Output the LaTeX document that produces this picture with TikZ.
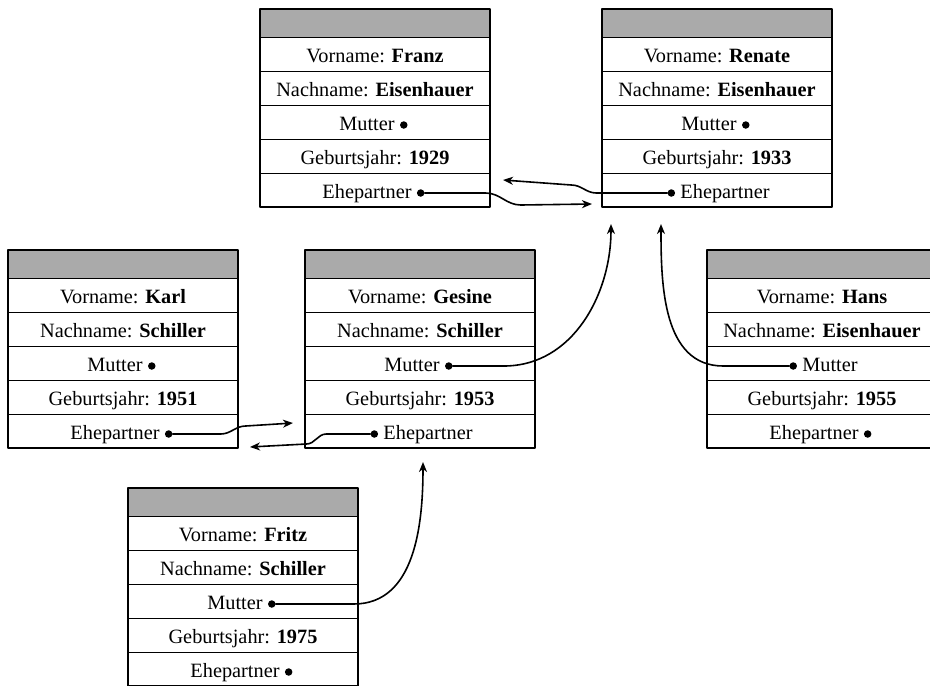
\documentclass[tikz,border=0pt]{standalone}
\usepackage{fontspec}
\setmainfont{Liberation Serif}
\usetikzlibrary{positioning,arrows.meta}
\definecolor{kopfgrau}{RGB}{170,170,170}

% Rahmen einer Person: #1 Name, #2 linke Kante, #3 obere Kante (Pixel von oben)
\newcommand{\personbox}[3]{%
  \fill[kopfgrau] (#2,-#3) rectangle ++(230,-28);
  \foreach \i in {1,...,5}{%
    \draw[line width=1pt] (#2,-#3-28-34*\i+34) -- ++(230,0);
    \coordinate (#1-r\i) at (#2+115,-#3-11-34*\i);
  }
  \draw[line width=2.3pt] (#2,-#3) rectangle ++(230,-198);
}

\begin{document}
\begin{tikzpicture}[x=1pt,y=1pt,line cap=round,line join=round,
    >={Stealth[length=10pt,width=8pt,inset=3pt]},
    txt/.style={font=\fontsize{20.3}{24}\selectfont, inner sep=0pt, anchor=base, yshift=-8pt},
    vor/.style={txt, xshift=-8pt},
    nach/.style={txt, xshift=8pt},
    punkt/.style={circle, fill, inner sep=0pt, minimum size=7.5pt, yshift=5pt},
    conn/.style={->, line width=1.6pt}]
    \path[use as bounding box, clip] (0,0) rectangle (930,-686);

    \personbox{franz}{260}{9}
    \personbox{renate}{602}{9}
    \personbox{karl}{8}{250}
    \personbox{gesine}{305}{250}
    \personbox{hans}{707}{250}
    \personbox{fritz}{128}{488}

    % Franz
    \node[txt] (franz-vn) at (franz-r1) {Vorname: \textbf{Franz}};
    \node[txt] (franz-nn) at (franz-r2) {Nachname: \textbf{Eisenhauer}};
    \node[vor] (franz-mu) at (franz-r3) {Mutter};
    \node[punkt, right=5pt of franz-mu.base east] (franz-mu-d) {};
    \node[txt] (franz-gj) at (franz-r4) {Geburtsjahr: \textbf{1929}};
    \node[vor] (franz-eh) at (franz-r5) {Ehepartner};
    \node[punkt, right=5pt of franz-eh.base east] (franz-eh-d) {};

    % Renate
    \node[txt] (renate-vn) at (renate-r1) {Vorname: \textbf{Renate}};
    \node[txt] (renate-nn) at (renate-r2) {Nachname: \textbf{Eisenhauer}};
    \node[vor] (renate-mu) at (renate-r3) {Mutter};
    \node[punkt, right=5pt of renate-mu.base east] (renate-mu-d) {};
    \node[txt] (renate-gj) at (renate-r4) {Geburtsjahr: \textbf{1933}};
    \node[nach] (renate-eh) at (renate-r5) {Ehepartner};
    \node[punkt, left=5pt of renate-eh.base west] (renate-eh-d) {};

    % Karl
    \node[txt] (karl-vn) at (karl-r1) {Vorname: \textbf{Karl}};
    \node[txt] (karl-nn) at (karl-r2) {Nachname: \textbf{Schiller}};
    \node[vor] (karl-mu) at (karl-r3) {Mutter};
    \node[punkt, right=5pt of karl-mu.base east] (karl-mu-d) {};
    \node[txt] (karl-gj) at (karl-r4) {Geburtsjahr: \textbf{1951}};
    \node[vor] (karl-eh) at (karl-r5) {Ehepartner};
    \node[punkt, right=5pt of karl-eh.base east] (karl-eh-d) {};

    % Gesine
    \node[txt] (gesine-vn) at (gesine-r1) {Vorname: \textbf{Gesine}};
    \node[txt] (gesine-nn) at (gesine-r2) {Nachname: \textbf{Schiller}};
    \node[vor] (gesine-mu) at (gesine-r3) {Mutter};
    \node[punkt, right=5pt of gesine-mu.base east] (gesine-mu-d) {};
    \node[txt] (gesine-gj) at (gesine-r4) {Geburtsjahr: \textbf{1953}};
    \node[nach] (gesine-eh) at (gesine-r5) {Ehepartner};
    \node[punkt, left=5pt of gesine-eh.base west] (gesine-eh-d) {};

    % Hans
    \node[txt] (hans-vn) at (hans-r1) {Vorname: \textbf{Hans}};
    \node[txt] (hans-nn) at (hans-r2) {Nachname: \textbf{Eisenhauer}};
    \node[nach] (hans-mu) at (hans-r3) {Mutter};
    \node[punkt, left=5pt of hans-mu.base west] (hans-mu-d) {};
    \node[txt] (hans-gj) at (hans-r4) {Geburtsjahr: \textbf{1955}};
    \node[vor] (hans-eh) at (hans-r5) {Ehepartner};
    \node[punkt, right=5pt of hans-eh.base east] (hans-eh-d) {};

    % Fritz
    \node[txt] (fritz-vn) at (fritz-r1) {Vorname: \textbf{Fritz}};
    \node[txt] (fritz-nn) at (fritz-r2) {Nachname: \textbf{Schiller}};
    \node[vor] (fritz-mu) at (fritz-r3) {Mutter};
    \node[punkt, right=5pt of fritz-mu.base east] (fritz-mu-d) {};
    \node[txt] (fritz-gj) at (fritz-r4) {Geburtsjahr: \textbf{1975}};
    \node[vor] (fritz-eh) at (fritz-r5) {Ehepartner};
    \node[punkt, right=5pt of fritz-eh.base east] (fritz-eh-d) {};

    % Verweise
    \coordinate (franz-eh-ziel) at (592,-204);
    \coordinate (renate-eh-ziel) at (503,-180);
    \coordinate (gesine-mu-ziel) at (611,-224);
    \coordinate (hans-mu-ziel) at (661,-224);
    \coordinate (karl-eh-ziel) at (293,-423);
    \coordinate (gesine-eh-ziel) at (250,-447);
    \coordinate (fritz-mu-ziel) at (423,-462);

    \draw[conn] (franz-eh-d) -- ++(65,0) to[out=0,in=180] ++(35,-12) -- (franz-eh-ziel);
    \draw[conn] (renate-eh-d) -- ++(-75,0) to[out=180,in=0] ++(-25,8) -- (renate-eh-ziel);
    \draw[conn] (gesine-mu-d) -- ++(55,0) to[out=0,in=-90] (gesine-mu-ziel);
    \draw[conn] (hans-mu-d) -- ++(-70,0) to[out=180,in=-90] (hans-mu-ziel);
    \draw[conn] (karl-eh-d) -- ++(52,0) to[out=0,in=180] ++(25,8) -- (karl-eh-ziel);
    \draw[conn] (gesine-eh-d) -- ++(-48,0) to[out=180,in=0] ++(-20,-10) -- (gesine-eh-ziel);
    \draw[conn] (fritz-mu-d) -- ++(82,0) to[out=0,in=-90] (fritz-mu-ziel);
\end{tikzpicture}
\end{document}
